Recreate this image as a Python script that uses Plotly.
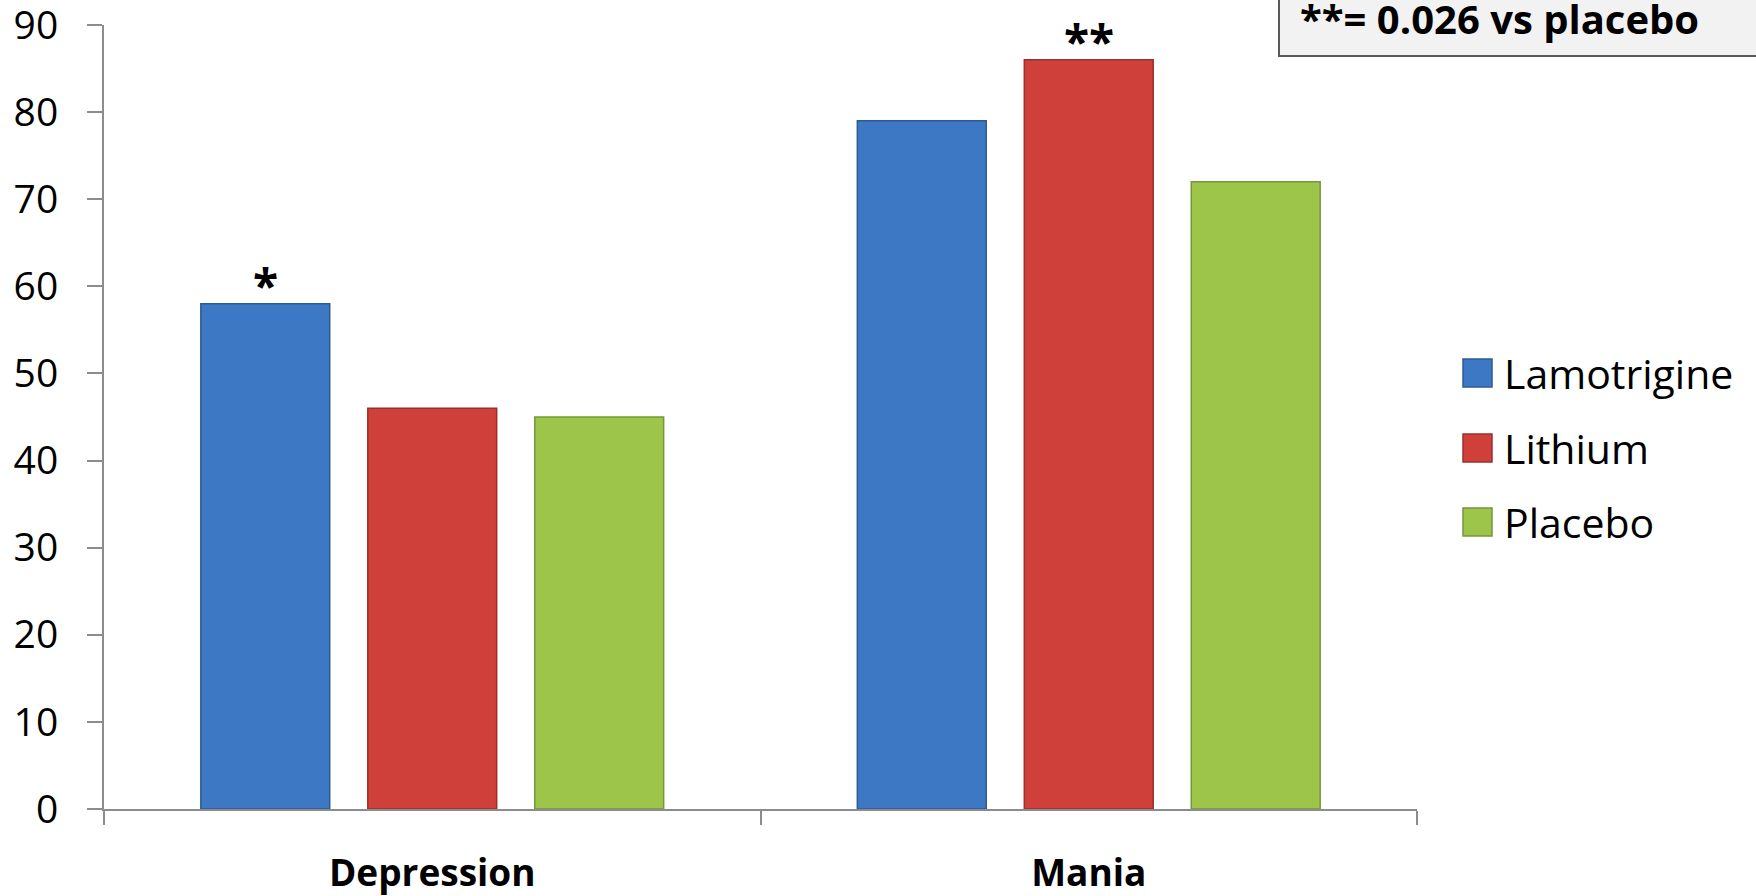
import plotly.graph_objects as go

# Data
categories = ["Depression", "Mania"]
series_names = ["Lamotrigine", "Lithium", "Placebo"]
lamotrigine = [58, 79]
lithium = [46, 86]
placebo = [45, 72]
significance = {"Lamotrigine": ["*", ""], "Lithium": ["", "**"], "Placebo": ["", ""]}
note_text = "**= 0.026 vs placebo"
y_ticks = [0, 10, 20, 30, 40, 50, 60, 70, 80, 90]

values = {"Lamotrigine": lamotrigine, "Lithium": lithium, "Placebo": placebo}
fills = {"Lamotrigine": "#3D78C4", "Lithium": "#CF403B", "Placebo": "#9DC549"}
edges = {"Lamotrigine": "#2E5A93", "Lithium": "#9A302D", "Placebo": "#76973A"}

W, H = 1756, 896
L, R, T, B = 104, 339, 25, 87
PW, PH = W - L - R, H - T - B
BARGAP, BARGROUPGAP = 0.237, 0.228


def px_x(x):
    return (x - L) / PW


def px_y(y):
    return (H - B - y) / PH


FONT = "Open Sans"

fig = go.Figure()
for name in series_names:
    fig.add_trace(go.Bar(
        name=name,
        x=categories,
        y=values[name],
        marker=dict(color=fills[name], line=dict(color=edges[name], width=1.5)),
        showlegend=False,
    ))

shapes = []
annotations = []

# Significance stars above the bars, shifted to each bar's slot in the group
slot = PW / len(categories) * (1 - BARGAP) / len(series_names)
for i, name in enumerate(series_names):
    for cat, val, mark in zip(categories, values[name], significance[name]):
        if not mark:
            continue
        annotations.append(dict(
            xref="x", yref="y", x=cat, y=val,
            xshift=(i - (len(series_names) - 1) / 2) * slot,
            yanchor="bottom", yshift=-14, showarrow=False,
            text="<b>" + mark + "</b>",
            font=dict(family=FONT, size=46, color="black"),
        ))

# Legend drawn as squares and labels at the right of the plot
legend_rows = [373, 448, 522]
for name, yc in zip(series_names, legend_rows):
    shapes.append(dict(
        type="rect", xref="paper", yref="paper",
        x0=px_x(1463), x1=px_x(1492), y0=px_y(yc + 14), y1=px_y(yc - 14),
        fillcolor=fills[name], line=dict(color=edges[name], width=1.5),
    ))
    annotations.append(dict(
        xref="paper", yref="paper", x=px_x(1502), y=px_y(yc),
        xanchor="left", yanchor="middle", showarrow=False,
        text=name, font=dict(family=FONT, size=41, color="black"),
    ))

# Significance note box in the top-right corner
shapes.append(dict(
    type="rect", xref="paper", yref="paper",
    x0=px_x(1279), x1=px_x(1770), y0=px_y(56), y1=px_y(-20),
    fillcolor="#F2F2F2", line=dict(color="#5A5A5A", width=2),
))
annotations.append(dict(
    xref="paper", yref="paper", x=px_x(1298), y=px_y(18),
    xanchor="left", yanchor="middle", showarrow=False,
    text="<b>" + note_text + "</b>",
    font=dict(family=FONT, size=40, color="black"),
))

fig.update_layout(
    width=W, height=H,
    margin=dict(l=L, r=R, t=T, b=B, pad=0, autoexpand=False),
    plot_bgcolor="white", paper_bgcolor="white",
    barmode="group", bargap=BARGAP, bargroupgap=BARGROUPGAP,
    shapes=shapes, annotations=annotations,
    font=dict(family=FONT, color="black"),
)
fig.update_xaxes(
    showline=True, linecolor="#8C8C8C", linewidth=2,
    ticks="outside", tickson="boundaries", ticklen=14, tickwidth=2, tickcolor="#8C8C8C",
    tickfont=dict(family=FONT, size=37, color="black", weight="bold"),
    ticklabelstandoff=31, automargin=False, ticklabeloverflow="allow",
    showgrid=False, zeroline=False,
)
fig.update_yaxes(
    range=[0, 90], tickvals=y_ticks,
    showline=True, linecolor="#8C8C8C", linewidth=2,
    ticks="outside", ticklen=15, tickwidth=2, tickcolor="#8C8C8C",
    tickfont=dict(family=FONT, size=39, color="black"),
    ticklabelstandoff=21, ticklabeloverflow="allow", automargin=False,
    showgrid=False, zeroline=False,
)

fig.write_html("out.html")
